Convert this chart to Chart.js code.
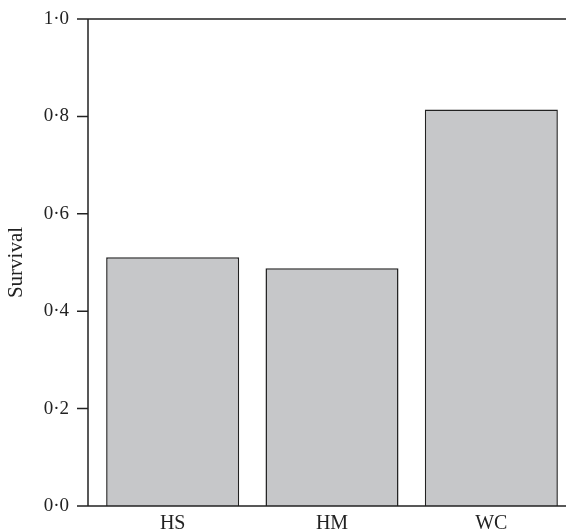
<!DOCTYPE html>
<html>
<head>
<meta charset="utf-8">
<script src="https://cdn.jsdelivr.net/npm/chart.js@4"></script>
<style>
  html, body { margin: 0; padding: 0; background: #fff; overflow: hidden; }
  #wrap { width: 571px; height: 530px; }
</style>
</head>
<body>
<div id="wrap"><canvas id="chart"></canvas></div>
<script>
// ===============================
// DATA
// ===============================
const categories = ["HS", "HM", "WC"];
const survival = [0.511, 0.488, 0.814];
const yTicks = [0, 0.2, 0.4, 0.6, 0.8, 1.0];

const ink = "#222";
const serif = "'Liberation Serif', 'DejaVu Serif', serif";

// axis line, tick marks and the top/bottom rules, drawn from the y scale
const frame = {
  id: "frame",
  afterDraw(chart) {
    const { ctx, chartArea, scales } = chart;
    const y = scales.y;
    const axisX = chartArea.left - 5;
    const top = y.getPixelForValue(1);
    const bottom = y.getPixelForValue(0);
    ctx.save();
    ctx.strokeStyle = ink;
    ctx.lineWidth = 1.5;
    ctx.beginPath();
    ctx.moveTo(axisX, top);
    ctx.lineTo(axisX, bottom);
    yTicks.forEach(v => {
      const py = y.getPixelForValue(v);
      ctx.moveTo(axisX - 11, py);
      ctx.lineTo(axisX, py);
    });
    ctx.moveTo(axisX, top);
    ctx.lineTo(chartArea.right, top);
    ctx.moveTo(axisX, bottom);
    ctx.lineTo(chartArea.right, bottom);
    ctx.stroke();
    ctx.restore();
  }
};

new Chart(document.getElementById("chart"), {
  type: "bar",
  data: {
    labels: categories,
    datasets: [{
      data: survival,
      backgroundColor: "#c6c7c9",
      borderColor: ink,
      borderWidth: 1.5,
      barPercentage: 0.835,
      categoryPercentage: 1
    }]
  },
  options: {
    responsive: true,
    maintainAspectRatio: false,
    animation: false,
    layout: { padding: { top: 19, right: 0, bottom: 0, left: 0 } },
    plugins: { legend: { display: false }, tooltip: { enabled: false } },
    scales: {
      x: {
        grid: { display: false, drawTicks: false },
        border: { display: false },
        ticks: { color: ink, padding: 6, font: { family: serif, size: 20 } },
        afterFit: s => { s.height = 24; }
      },
      y: {
        min: 0,
        max: 1,
        afterBuildTicks: s => { s.ticks = yTicks.map(v => ({ value: v })); },
        grid: { display: false, drawTicks: false },
        border: { display: false },
        ticks: {
          color: ink,
          padding: 24,
          font: { family: serif, size: 19 },
          callback: v => v.toFixed(1).replace(".", "·")
        },
        title: {
          display: true,
          text: "Survival",
          color: ink,
          padding: { top: 4, bottom: 0 },
          font: { family: serif, size: 21 }
        },
        afterFit: s => {
          s.width = 93;
          s.paddingTop = 0;
          s.paddingBottom = 0;
        }
      }
    }
  },
  plugins: [frame]
});
</script>
</body>
</html>
